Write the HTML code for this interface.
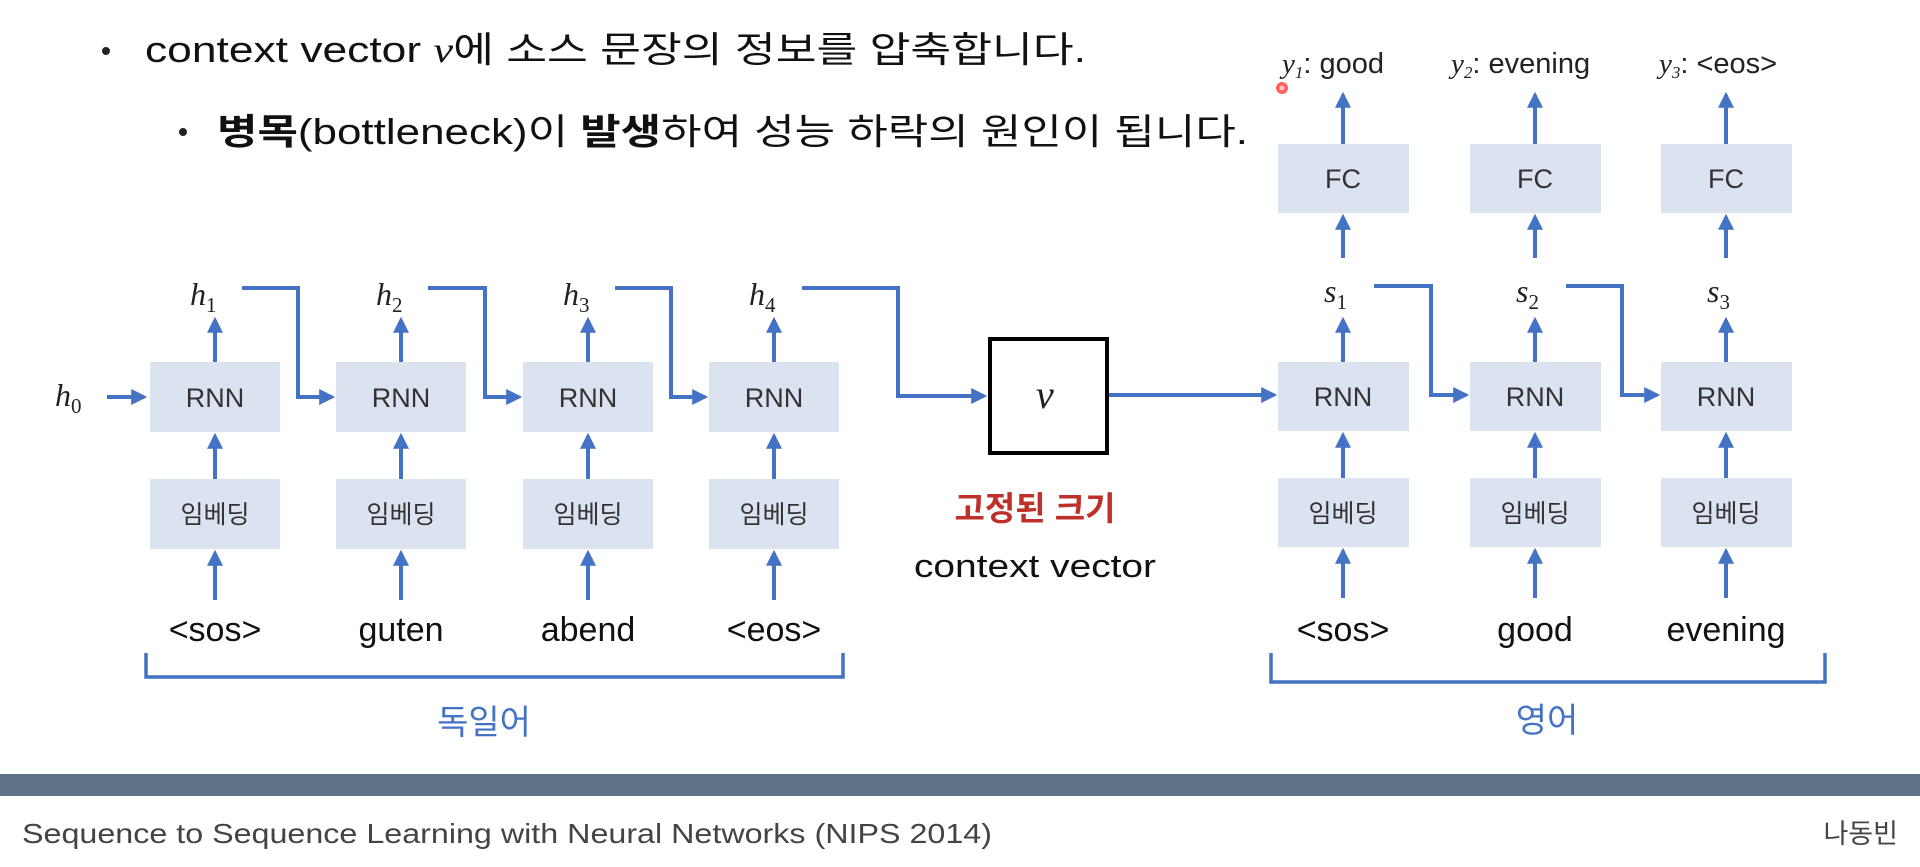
<!DOCTYPE html>
<html><head><meta charset="utf-8"><style>
html,body{margin:0;padding:0;background:#fff;}
svg{display:block}
text{font-family:"Liberation Sans","Noto Sans CJK KR",sans-serif;}
.m text, text.m, tspan.m{font-family:"Liberation Serif","Noto Serif CJK SC",serif;font-style:italic;}
.m tspan.s{font-style:normal;}
</style></head><body>
<svg width="1920" height="867" viewBox="0 0 1920 867" xmlns="http://www.w3.org/2000/svg">
<defs>
<marker id="a" markerWidth="4" markerHeight="4" refX="3.2" refY="2" orient="auto" markerUnits="strokeWidth">
<path d="M0,0 L4,2 L0,4 z" fill="#4472c4"/></marker>
</defs>
<rect width="1920" height="867" fill="#fff"/>
<circle cx="106" cy="51" r="4" fill="#222"/>
<text x="145" y="62" font-size="36" fill="#111" textLength="941" lengthAdjust="spacingAndGlyphs">context vector <tspan class="m">v</tspan>에 소스 문장의 정보를 압축합니다.</text>
<circle cx="183" cy="132" r="4" fill="#222"/>
<text x="217" y="144" font-size="36" fill="#111" textLength="1031" lengthAdjust="spacingAndGlyphs"><tspan font-weight="bold">병목</tspan>(bottleneck)이 <tspan font-weight="bold">발생</tspan>하여 성능 하락의 원인이 됩니다.</text>
<circle cx="1282" cy="88" r="6" fill="#f44" opacity="0.85"/>
<circle cx="1282" cy="88" r="2.5" fill="#fcc"/>

<g fill="#dbe2f0">
<rect x="150" y="362" width="130" height="70"/><rect x="336" y="362" width="130" height="70"/><rect x="523" y="362" width="130" height="70"/><rect x="709" y="362" width="130" height="70"/>
<rect x="150" y="479" width="130" height="70"/><rect x="336" y="479" width="130" height="70"/><rect x="523" y="479" width="130" height="70"/><rect x="709" y="479" width="130" height="70"/>
<rect x="1278" y="362" width="131" height="69"/><rect x="1470" y="362" width="131" height="69"/><rect x="1661" y="362" width="131" height="69"/>
<rect x="1278" y="478" width="131" height="69"/><rect x="1470" y="478" width="131" height="69"/><rect x="1661" y="478" width="131" height="69"/>
<rect x="1278" y="144" width="131" height="69"/><rect x="1470" y="144" width="131" height="69"/><rect x="1661" y="144" width="131" height="69"/>
</g>
<g font-size="27" fill="#333" text-anchor="middle">
<text x="215" y="407">RNN</text><text x="401" y="407">RNN</text><text x="588" y="407">RNN</text><text x="774" y="407">RNN</text>
<text x="1343" y="406">RNN</text><text x="1535" y="406">RNN</text><text x="1726" y="406">RNN</text>
<text x="1343" y="188">FC</text><text x="1535" y="188">FC</text><text x="1726" y="188">FC</text>
</g>
<g font-size="25" fill="#333" text-anchor="middle">
<text x="215" y="523">임베딩</text><text x="401" y="523">임베딩</text><text x="588" y="523">임베딩</text><text x="774" y="523">임베딩</text>
<text x="1343" y="522">임베딩</text><text x="1535" y="522">임베딩</text><text x="1726" y="522">임베딩</text>
</g>
<g stroke="#4472c4" stroke-width="4" fill="none" marker-end="url(#a)">
<line x1="215" y1="600" x2="215" y2="553"/><line x1="401" y1="600" x2="401" y2="553"/><line x1="588" y1="600" x2="588" y2="553"/><line x1="774" y1="600" x2="774" y2="553"/>
<line x1="215" y1="479" x2="215" y2="436"/><line x1="401" y1="479" x2="401" y2="436"/><line x1="588" y1="479" x2="588" y2="436"/><line x1="774" y1="479" x2="774" y2="436"/>
<line x1="215" y1="362" x2="215" y2="320"/><line x1="401" y1="362" x2="401" y2="320"/><line x1="588" y1="362" x2="588" y2="320"/><line x1="774" y1="362" x2="774" y2="320"/>
<line x1="107" y1="397" x2="144" y2="397"/>
<polyline points="242,288 298,288 298,397 332,397"/>
<polyline points="428,288 485,288 485,397 519,397"/>
<polyline points="615,288 671,288 671,397 705,397"/>
<polyline points="802,288 898,288 898,396 984,396"/>
<line x1="1109" y1="395" x2="1274" y2="395"/>
<polyline points="1374,286 1431,286 1431,395 1466,395"/>
<polyline points="1566,286 1622,286 1622,395 1657,395"/>
<line x1="1343" y1="598" x2="1343" y2="551"/><line x1="1535" y1="598" x2="1535" y2="551"/><line x1="1726" y1="598" x2="1726" y2="551"/>
<line x1="1343" y1="478" x2="1343" y2="435"/><line x1="1535" y1="478" x2="1535" y2="435"/><line x1="1726" y1="478" x2="1726" y2="435"/>
<line x1="1343" y1="362" x2="1343" y2="320"/><line x1="1535" y1="362" x2="1535" y2="320"/><line x1="1726" y1="362" x2="1726" y2="320"/>
<line x1="1343" y1="258" x2="1343" y2="217"/><line x1="1535" y1="258" x2="1535" y2="217"/><line x1="1726" y1="258" x2="1726" y2="217"/>
<line x1="1343" y1="144" x2="1343" y2="95"/><line x1="1535" y1="144" x2="1535" y2="95"/><line x1="1726" y1="144" x2="1726" y2="95"/>
</g>
<g stroke="#4472c4" stroke-width="3.5" fill="none">
<polyline points="146,653 146,677 843,677 843,653"/>
<polyline points="1271,653 1271,682 1825,682 1825,653"/>
</g>
<g class="m" font-size="32" fill="#222">
<text x="190" y="305">h<tspan class="s" font-size="21" dy="7">1</tspan></text>
<text x="376" y="305">h<tspan class="s" font-size="21" dy="7">2</tspan></text>
<text x="563" y="305">h<tspan class="s" font-size="21" dy="7">3</tspan></text>
<text x="749" y="305">h<tspan class="s" font-size="21" dy="7">4</tspan></text>
<text x="55" y="406">h<tspan class="s" font-size="21" dy="7">0</tspan></text>
<text x="1324" y="302">s<tspan class="s" font-size="21" dy="7">1</tspan></text>
<text x="1516" y="302">s<tspan class="s" font-size="21" dy="7">2</tspan></text>
<text x="1707" y="302">s<tspan class="s" font-size="21" dy="7">3</tspan></text>
<text x="1036" y="408" font-size="40">v</text>
</g>
<g font-size="29" fill="#222">
<text x="1282" y="73"><tspan class="m">y</tspan><tspan class="m" font-style="normal" font-size="17" dy="5">1</tspan><tspan dy="-5">: good</tspan></text>
<text x="1451" y="73"><tspan class="m">y</tspan><tspan class="m" font-size="17" dy="5">2</tspan><tspan dy="-5">: evening</tspan></text>
<text x="1659" y="73"><tspan class="m">y</tspan><tspan class="m" font-size="17" dy="5">3</tspan><tspan dy="-5">: &lt;eos&gt;</tspan></text>
</g>
<rect x="990" y="339" width="117" height="114" fill="none" stroke="#000" stroke-width="4"/>
<g font-size="34" fill="#111" text-anchor="middle">
<text x="215" y="641">&lt;sos&gt;</text><text x="401" y="641">guten</text><text x="588" y="641">abend</text><text x="774" y="641">&lt;eos&gt;</text>
<text x="1343" y="641">&lt;sos&gt;</text><text x="1535" y="641">good</text><text x="1726" y="641">evening</text>
</g>
<text x="1035" y="520" font-size="33" fill="#c0302a" font-weight="bold" text-anchor="middle">고정된 크기</text>
<text x="1035" y="577" font-size="32" fill="#111" text-anchor="middle" textLength="242" lengthAdjust="spacingAndGlyphs">context vector</text>
<text x="484" y="734" font-size="34" fill="#4472c4" text-anchor="middle">독일어</text>
<text x="1547" y="732" font-size="34" fill="#4472c4" text-anchor="middle">영어</text>
<rect x="0" y="774" width="1920" height="22" fill="#5d7187"/>
<text x="22" y="843" font-size="28" fill="#444" textLength="970" lengthAdjust="spacingAndGlyphs">Sequence to Sequence Learning with Neural Networks (NIPS 2014)</text>
<text x="1898" y="843" font-size="27" fill="#444" text-anchor="end">나동빈</text>
</svg>
</body></html>
